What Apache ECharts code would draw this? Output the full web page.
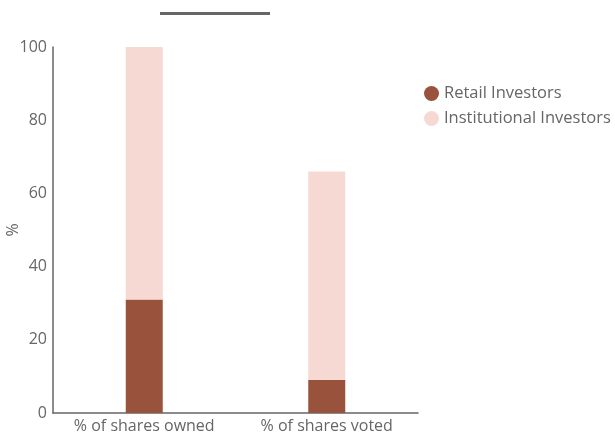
<!DOCTYPE html>
<html>
<head>
<meta charset="UTF-8">
<title>Shares owned vs voted</title>
<style>
  html, body { margin: 0; padding: 0; background: #fff; }
  #main { width: 615px; height: 434px; }
</style>
</head>
<body>
<div id="main"></div>
<script src="https://cdn.jsdelivr.net/npm/echarts@6/dist/echarts.min.js"></script>
<script>
var categories = ['% of shares owned', '% of shares voted'];
var retail = [31, 9];
var institutional = [69, 57];
var yTicks = [0, 20, 40, 60, 80, 100];

var FONT = 'Open Sans';
var chart = echarts.init(document.getElementById('main'));

chart.setOption({
  animation: false,
  textStyle: { fontFamily: FONT },
  // short grey bar above the plot
  graphic: [{
    type: 'rect',
    shape: { x: 160, y: 12, width: 110, height: 3 },
    style: { fill: '#666' }
  }],
  grid: { left: 53, right: 197, top: 47, bottom: 21, containLabel: false, outerBoundsMode: 'none' },
  legend: {
    orient: 'vertical',
    left: 419,
    top: 80,
    icon: 'circle',
    itemWidth: 15,
    itemHeight: 15,
    itemGap: 8,
    textStyle: { color: '#666', fontSize: 16.5, fontFamily: FONT },
    data: ['Retail Investors', 'Institutional Investors']
  },
  xAxis: {
    type: 'category',
    data: categories,
    axisLine: { lineStyle: { color: '#666', width: 1.5 } },
    axisTick: { show: false },
    axisLabel: { color: '#666', fontSize: 16, margin: 5, interval: 0, fontFamily: FONT }
  },
  yAxis: {
    type: 'value',
    min: yTicks[0],
    max: yTicks[yTicks.length - 1],
    interval: 20,
    name: '%',
    nameLocation: 'middle',
    nameGap: 32,
    nameRotate: 90,
    nameMoveOverlap: false,
    nameTextStyle: { color: '#666', fontSize: 16, fontFamily: FONT },
    axisLine: { show: true, lineStyle: { color: '#666', width: 1.5 } },
    axisTick: { show: false },
    splitLine: { show: false },
    axisLabel: { color: '#666', fontSize: 16, margin: 6, fontFamily: FONT }
  },
  series: [{
    name: 'Retail Investors',
    type: 'bar',
    stack: 'total',
    barWidth: 37,
    itemStyle: { color: '#99533D' },
    data: retail
  }, {
    name: 'Institutional Investors',
    type: 'bar',
    stack: 'total',
    barWidth: 37,
    itemStyle: { color: '#F7D9D3' },
    data: institutional
  }]
});
</script>
</body>
</html>
